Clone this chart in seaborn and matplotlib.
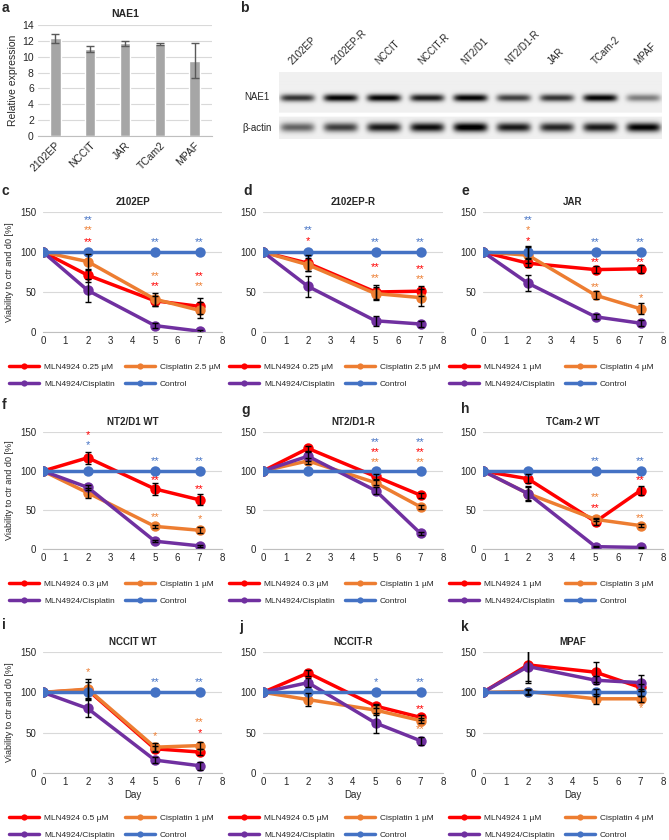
import numpy as np
import pandas as pd
import matplotlib
matplotlib.use('Agg')
import matplotlib.pyplot as plt
from matplotlib.lines import Line2D
import seaborn as sns

W, H = 669, 840

# ---- panel a: NAE1 expression
cells_a = ['2102EP', 'NCCIT', 'JAR', 'TCam2', 'MPAF']
nae1_expr = [12.3, 11.0, 11.7, 11.6, 9.5]
nae1_err = [0.6, 0.35, 0.3, 0.1, 2.2]

# ---- panel b: western blot band strength (0-1)
lanes_b = ['2102EP', '2102EP-R', 'NCCIT', 'NCCIT-R', 'NT2/D1',
           'NT2/D1-R', 'JAR', 'TCam-2', 'MPAF']
nae1_band = [0.75, 0.95, 0.95, 0.85, 0.95, 0.7, 0.75, 0.95, 0.45]
actin_band = [0.55, 0.7, 0.85, 0.9, 1.0, 0.85, 0.8, 0.85, 0.95]

# ---- panels c-k: viability
days = [0, 2, 5, 7]
control = [100, 100, 100, 100]
no_err = [0, 0, 0, 0]

c_mln = [100, 71, 39, 32]
c_cis = [100, 88, 41, 27]
c_combo = [100, 52, 8, 1]
c_mln_err = [0, 8, 6, 10]
c_cis_err = [0, 10, 8, 10]
c_combo_err = [0, 14, 3, 2]
c_stars = [(2, 140, '**', 3), (2, 127, '**', 1), (2, 113, '**', 0),
           (5, 113, '**', 3), (5, 70, '**', 1), (5, 57, '**', 0),
           (7, 113, '**', 3), (7, 70, '**', 0), (7, 57, '**', 1)]

d_mln = [100, 86, 50, 51]
d_cis = [100, 84, 48, 43]
d_combo = [100, 57, 14, 10]
d_mln_err = [0, 10, 9, 6]
d_cis_err = [0, 8, 8, 11]
d_combo_err = [0, 13, 6, 4]
d_stars = [(2, 127, '**', 3), (2, 114, '*', 0),
           (5, 113, '**', 3), (5, 81, '**', 0), (5, 68, '**', 1),
           (7, 113, '**', 3), (7, 79, '**', 0), (7, 66, '**', 1)]

e_mln = [100, 86, 78, 79]
e_cis = [100, 96, 46, 29]
e_combo = [100, 61, 19, 11]
e_mln_err = [0, 5, 4, 5]
e_cis_err = [0, 10, 5, 7]
e_combo_err = [0, 10, 3, 4]
e_ctrl_err = [0, 7, 0, 0]
e_stars = [(2, 140, '**', 3), (2, 127, '*', 1), (2, 114, '*', 0),
           (5, 113, '**', 3), (5, 88, '**', 0), (5, 56, '**', 1),
           (7, 113, '**', 3), (7, 88, '**', 0), (7, 43, '*', 1)]

f_mln = [100, 117, 77, 63]
f_cis = [100, 72, 29, 24]
f_combo = [100, 79, 10, 4]
f_mln_err = [0, 8, 8, 7]
f_cis_err = [0, 6, 2, 4]
f_combo_err = [0, 3, 1, 1]
f_stars = [(2, 146, '*', 0), (2, 133, '*', 3),
           (5, 113, '**', 3), (5, 89, '**', 0), (5, 41, '**', 1),
           (7, 113, '**', 3), (7, 77, '**', 0), (7, 38, '*', 1)]

g_mln = [100, 129, 93, 69]
g_cis = [100, 113, 85, 54]
g_combo = [100, 119, 75, 20]
g_mln_err = [0, 3, 3, 3]
g_cis_err = [0, 4, 3, 3]
g_combo_err = [0, 6, 4, 2]
g_stars = [(5, 137, '**', 3), (5, 124, '**', 0), (5, 111, '**', 1),
           (7, 137, '**', 3), (7, 124, '**', 0), (7, 111, '**', 1)]

h_mln = [100, 90, 35, 75]
h_cis = [100, 71, 38, 30]
h_combo = [100, 71, 3, 2]
h_mln_err = [0, 6, 4, 6]
h_cis_err = [0, 8, 2, 2]
h_combo_err = [0, 10, 1, 1]
h_stars = [(5, 113, '**', 3), (5, 66, '**', 1), (5, 52, '**', 0),
           (7, 113, '**', 3), (7, 88, '**', 0), (7, 40, '**', 1)]

i_mln = [100, 103, 30, 26]
i_cis = [100, 104, 32, 34]
i_combo = [100, 80, 16, 9]
i_mln_err = [0, 10, 4, 4]
i_cis_err = [0, 12, 5, 4]
i_combo_err = [0, 10, 4, 5]
i_stars = [(2, 125, '*', 1),
           (5, 113, '**', 3), (5, 46, '*', 1),
           (7, 113, '**', 3), (7, 63, '**', 1), (7, 50, '*', 0)]

j_mln = [100, 124, 83, 69]
j_cis = [100, 91, 78, 65]
j_combo = [100, 112, 62, 40]
j_mln_err = [0, 4, 3, 3]
j_cis_err = [0, 8, 6, 3]
j_combo_err = [0, 6, 12, 5]
j_stars = [(5, 113, '*', 3),
           (7, 113, '**', 3), (7, 79, '**', 0), (7, 54, '**', 1)]

k_mln = [100, 134, 125, 106]
k_cis = [100, 101, 92, 92]
k_combo = [100, 132, 115, 112]
k_mln_err = [0, 20, 12, 4]
k_cis_err = [0, 3, 6, 4]
k_combo_err = [0, 20, 5, 10]
k_ctrl_err = [0, 3, 4, 4]
k_stars = [(7, 80, '*', 1)]

colors = ['#ff0000', '#ed7d31', '#7030a0', '#4472c4']
GRID = '#d9d9d9'

sns.set_style('white')
plt.rcParams['font.family'] = ['Liberation Sans', 'DejaVu Sans']


def add_axes_px(fig, left, top, right, bottom):
    return fig.add_axes([left / W, 1 - bottom / H,
                         (right - left) / W, (bottom - top) / H])


def letter(fig, x, y, s):
    fig.text(x / W, 1 - y / H, s, fontsize=10, fontweight='bold',
             va='center', ha='left')


def draw_viability(fig, box, title, mln_label, cis_label, series, errs,
                   stars, ylabel, xlabel, legend_y):
    left, top, right, bottom = box
    ax = add_axes_px(fig, left, top, right, bottom)
    labels = [mln_label, cis_label, 'MLN4924/Cisplatin', 'Control']
    df = pd.DataFrame({
        'day': days * 4,
        'viability': sum(series, []),
        'treatment': sum([[lab] * 4 for lab in labels], []),
    })
    sns.lineplot(data=df, x='day', y='viability', hue='treatment',
                 hue_order=labels, palette=colors, marker='o',
                 markersize=7.5, markeredgewidth=0, linewidth=2.5,
                 legend=False, ax=ax)
    for vals, err in zip(series, errs):
        pts = [(d, v, e) for d, v, e in zip(days, vals, err) if e > 0]
        if pts:
            ax.errorbar([p[0] for p in pts], [p[1] for p in pts],
                        yerr=[p[2] for p in pts], fmt='none',
                        ecolor='black', elinewidth=1, capsize=2.5,
                        capthick=1, zorder=6)
    for d, y, s, k in stars:
        ax.text(d, y, s, color=colors[k], fontsize=8, ha='center',
                va='center')
    ax.set_xlim(0, 8)
    ax.set_ylim(0, 150)
    ax.set_xticks(range(9))
    ax.set_yticks([0, 50, 100, 150])
    ax.yaxis.grid(True, color=GRID, linewidth=0.8)
    ax.set_axisbelow(True)
    for s in ['left', 'right', 'top']:
        ax.spines[s].set_visible(False)
    ax.spines['bottom'].set_color('#bfbfbf')
    ax.tick_params(length=0, labelsize=7, pad=3)
    ax.tick_params(axis='y', pad=5)
    ax.set_title(title, fontsize=7, fontweight='bold', pad=5)
    ax.set_xlabel('Day' if xlabel else '', fontsize=7, labelpad=2)
    ax.set_ylabel('Viability to ctr and d0 [%]' if ylabel else '',
                  fontsize=6.5, labelpad=4)
    handles = [Line2D([], [], color=c, lw=2.5, marker='o', markersize=4.5,
                      markeredgewidth=0) for c in colors]
    order = [0, 2, 1, 3]
    ax.legend([handles[i] for i in order], [labels[i] for i in order],
              ncol=2, loc='upper left', frameon=False, fontsize=6,
              bbox_to_anchor=((left - 34) / W, 1 - legend_y / H),
              bbox_transform=fig.transFigure, handlelength=3.6,
              handletextpad=0.6, columnspacing=1.2, labelspacing=1.1,
              borderpad=0, borderaxespad=0)
    return ax


fig = plt.figure(figsize=(W / 100, H / 100), dpi=100)

# ---- panel a
ax_a = add_axes_px(fig, 38, 25, 212, 136)
sns.barplot(x=cells_a, y=nae1_expr, color='#a6a6a6', width=0.3,
            saturation=1, ax=ax_a)
ax_a.errorbar(range(len(cells_a)), nae1_expr, yerr=nae1_err, fmt='none',
              ecolor='#595959', elinewidth=1, capsize=3, capthick=1)
ax_a.set_xlim(-0.5, 4.5)
ax_a.set_ylim(0, 14)
ax_a.set_yticks(range(0, 15, 2))
ax_a.yaxis.grid(True, color=GRID, linewidth=0.8)
ax_a.set_axisbelow(True)
for s in ['left', 'right', 'top']:
    ax_a.spines[s].set_visible(False)
ax_a.spines['bottom'].set_color('#bfbfbf')
ax_a.tick_params(length=0, labelsize=7.5, pad=3)
plt.setp(ax_a.get_xticklabels(), rotation=45, ha='right',
         rotation_mode='anchor')
ax_a.set_ylabel('Relative expression', fontsize=7.5, labelpad=3)
ax_a.set_title('NAE1', fontsize=7.5, fontweight='bold', pad=6)

# ---- panel b: blot drawn from band strengths
bx0, bx1, by0, by1 = 279, 662, 72, 139
ax_b = add_axes_px(fig, bx0, by0, bx1, by1)
bw, bh = bx1 - bx0, by1 - by0
xs = np.arange(bw)[None, :]
ys = np.arange(bh)[:, None]
img = np.full((bh, bw), 0.06)
img[41:45, :] = 0.0
centers = [18 + 43.25 * i for i in range(len(lanes_b))]
for cx, s1, s2 in zip(centers, nae1_band, actin_band):
    xprof = np.exp(-((xs - cx) / 17.0) ** 6)
    img += s1 * xprof * np.exp(-((ys - 26) / 3.6) ** 2)
    img += s2 * xprof * np.exp(-((ys - 55) / 4.5) ** 2)
img = np.clip(img, 0, 1)
ax_b.imshow(img, cmap='gray_r', vmin=0, vmax=1, aspect='auto',
            extent=(0, bw, bh, 0), interpolation='bilinear')
ax_b.set_axis_off()
for cx, name in zip(centers, lanes_b):
    fig.text((bx0 + cx - 3) / W, 1 - 66 / H, name, rotation=45,
             rotation_mode='anchor', ha='left', va='bottom', fontsize=7)
fig.text(257 / W, 1 - 97 / H, 'NAE1', fontsize=7, ha='center',
         va='center')
fig.text(257 / W, 1 - 128 / H, '\u03b2-actin', fontsize=7, ha='center',
         va='center')

# ---- panels c-k
row_boxes = [(212, 332, 367), (432, 549, 584), (652, 773, 818)]
col_lr = [(43, 222), (263, 443), (483, 663)]
panels = [
    ('2102EP', 'MLN4924 0.25 \u00b5M', 'Cisplatin 2.5 \u00b5M',
     [c_mln, c_cis, c_combo, control],
     [c_mln_err, c_cis_err, c_combo_err, no_err], c_stars),
    ('2102EP-R', 'MLN4924 0.25 \u00b5M', 'Cisplatin 2.5 \u00b5M',
     [d_mln, d_cis, d_combo, control],
     [d_mln_err, d_cis_err, d_combo_err, no_err], d_stars),
    ('JAR', 'MLN4924 1 \u00b5M', 'Cisplatin 4 \u00b5M',
     [e_mln, e_cis, e_combo, control],
     [e_mln_err, e_cis_err, e_combo_err, e_ctrl_err], e_stars),
    ('NT2/D1 WT', 'MLN4924 0.3 \u00b5M', 'Cisplatin 1 \u00b5M',
     [f_mln, f_cis, f_combo, control],
     [f_mln_err, f_cis_err, f_combo_err, no_err], f_stars),
    ('NT2/D1-R', 'MLN4924 0.3 \u00b5M', 'Cisplatin 1 \u00b5M',
     [g_mln, g_cis, g_combo, control],
     [g_mln_err, g_cis_err, g_combo_err, no_err], g_stars),
    ('TCam-2 WT', 'MLN4924 1 \u00b5M', 'Cisplatin 3 \u00b5M',
     [h_mln, h_cis, h_combo, control],
     [h_mln_err, h_cis_err, h_combo_err, no_err], h_stars),
    ('NCCIT WT', 'MLN4924 0.5 \u00b5M', 'Cisplatin 1 \u00b5M',
     [i_mln, i_cis, i_combo, control],
     [i_mln_err, i_cis_err, i_combo_err, no_err], i_stars),
    ('NCCIT-R', 'MLN4924 0.5 \u00b5M', 'Cisplatin 1 \u00b5M',
     [j_mln, j_cis, j_combo, control],
     [j_mln_err, j_cis_err, j_combo_err, no_err], j_stars),
    ('MPAF', 'MLN4924 1 \u00b5M', 'Cisplatin 4 \u00b5M',
     [k_mln, k_cis, k_combo, control],
     [k_mln_err, k_cis_err, k_combo_err, k_ctrl_err], k_stars),
]
for n, (title, ml, cl, series, errs, stars) in enumerate(panels):
    r, c = divmod(n, 3)
    top, bottom, leg_y = row_boxes[r]
    left, right = col_lr[c]
    draw_viability(fig, (left, top, right, bottom), title, ml, cl, series,
                   errs, stars, ylabel=(c == 0), xlabel=(r == 2),
                   legend_y=leg_y - 4)

letter(fig, 2, 8, 'a')
letter(fig, 240, 8, 'b')
for s, x, y in [('c', 2, 191), ('d', 243, 191), ('e', 461, 191),
                ('f', 2, 405), ('g', 241, 410), ('h', 461, 409),
                ('i', 2, 625), ('j', 239, 627), ('k', 461, 627)]:
    letter(fig, x, y, s)

fig.savefig('out.png', dpi=100)
